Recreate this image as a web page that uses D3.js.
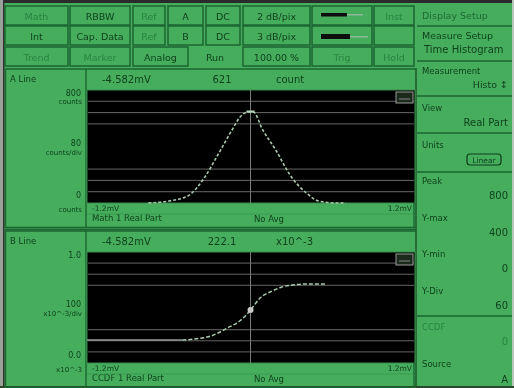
<!DOCTYPE html>
<html>
<head>
<meta charset="utf-8">
<script src="https://cdn.jsdelivr.net/npm/d3@7"></script>
<style>
  body { margin: 0; background: #fff; }
  svg { display: block; }
  text { font-family: "DejaVu Sans", sans-serif; }
</style>
</head>
<body>
<div id="chart"></div>
<script>
// ---- data ----
const histX     = [-0.75, -0.6, -0.46, -0.34, -0.24, -0.14, -0.07, -0.02, 0.02, 0.09, 0.19, 0.29, 0.41, 0.5, 0.63, 0.7];
const histCount = [0, 14, 50, 177, 340, 510, 616, 644, 644, 517, 368, 198, 71, 14, 0, 0];

const ccdfX   = [-1.2, -0.5, -0.41, -0.29, -0.17, -0.07, 0, 0.07, 0.16, 0.23, 0.31, 0.43, 0.56];
const ccdfVal = [0.207, 0.207, 0.216, 0.243, 0.315, 0.387, 0.477, 0.585, 0.649, 0.685, 0.703, 0.712, 0.712];

const xDomain = [-1.2, 1.2];     // mV
const histDomain = [0, 800];     // counts
const ccdfDomain = [0, 1];
const gridDivs = [1, 2, 3, 7, 8, 9];  // visible horizontal graticule lines (of 10)
const cursorX = 0;

const row1 = ["Math", "RBBW", "Ref", "A", "DC", "2 dB/pix", "", "Inst"];
const row2 = ["Int", "Cap. Data", "Ref", "B", "DC", "3 dB/pix", "", ""];
const row3 = ["Trend", "Marker", "Analog", "Run", "100.00 %", "Trig", "Hold"];
const dim1 = [true, false, true, false, false, false, false, true];
const dim2 = [false, false, true, false, false, false, false, true];
const dim3 = [true, true, false, false, false, true, true];

const panelA = { line: "A Line", cur: "-4.582mV", val: "621", unit: "count",
  yTop: ["800", "counts"], yMid: ["80", "counts/div"], yBot: ["0", "counts"],
  xLeft: "-1.2mV", xRight: "1.2mV", trace: "Math 1 Real Part", avg: "No Avg" };
const panelB = { line: "B Line", cur: "-4.582mV", val: "222.1", unit: "x10^-3",
  yTop: ["1.0", ""], yMid: ["100", "x10^-3/div"], yBot: ["0.0", "x10^-3"],
  xLeft: "-1.2mV", xRight: "1.2mV", trace: "CCDF 1 Real Part", avg: "No Avg" };

const sideItems = [
  { label: "Peak", value: "800" },
  { label: "Y-max", value: "400" },
  { label: "Y-min", value: "0" },
  { label: "Y-Div", value: "60" }
];

// ---- drawing ----
const W = 514, H = 388;
const green = "#45ad5c", line = "#1c6630", ink = "#0f3f1c", dimInk = "#2a8440";

const root = d3.select("#chart").append("svg").attr("width", W).attr("height", H);
root.append("defs").append("filter").attr("id", "soft")
  .append("feGaussianBlur").attr("stdDeviation", 0.45);
const svg = root.append("g").attr("filter", "url(#soft)");

svg.append("rect").attr("width", W).attr("height", H).attr("fill", green);
svg.append("rect").attr("width", W).attr("height", 3).attr("fill", "#2a2a2a");
svg.append("rect").attr("x", 0).attr("width", 3).attr("height", H).attr("fill", "#9aa09a");
svg.append("rect").attr("x", 3).attr("width", 1.5).attr("height", H).attr("fill", "#333");
svg.append("rect").attr("x", W - 2).attr("width", 2).attr("height", H).attr("fill", "#b8c8b8");
svg.append("rect").attr("y", H - 2).attr("width", W).attr("height", 2).attr("fill", "#2a4a2a");

function txt(x, y, s, opt = {}) {
  return svg.append("text").attr("x", x).attr("y", y).text(s)
    .attr("font-size", opt.size || 9.5)
    .attr("fill", opt.fill || ink)
    .attr("text-anchor", opt.anchor || "start");
}
function box(x, y, w, h) {
  svg.append("rect").attr("x", x).attr("y", y).attr("width", w).attr("height", h)
    .attr("fill", "none").attr("stroke", line).attr("stroke-width", 1.5);
}
function hline(x1, x2, y, c = line, w = 1.4) {
  svg.append("line").attr("x1", x1).attr("x2", x2).attr("y1", y).attr("y2", y)
    .attr("stroke", c).attr("stroke-width", w);
}
function vline(x, y1, y2, c = line, w = 1.4) {
  svg.append("line").attr("x1", x).attr("x2", x).attr("y1", y1).attr("y2", y2)
    .attr("stroke", c).attr("stroke-width", w);
}

// button rows
const cells12 = [[5, 68], [70, 130], [133, 165], [168, 203], [206, 240], [243, 310], [312, 372], [374, 414]];
const cells3 = [[5, 68], [70, 130], [133, 188], [190, 240], [243, 310], [312, 372], [374, 414]];
[[row1, dim1, 6, cells12], [row2, dim2, 26, cells12], [row3, dim3, 47, cells3]].forEach(([labels, dims, y, cells]) => {
  labels.forEach((s, i) => {
    const [a, b] = cells[i];
    if (!(labels === row3 && i === 3)) box(a, y, b - a, 19);
    if (s) txt((a + b) / 2, y + 13.5, s, { anchor: "middle", fill: dims[i] ? dimInk : ink });
  });
});
// level bars
svg.append("rect").attr("x", 321).attr("y", 13).attr("width", 26).attr("height", 3.5).attr("fill", "#111");
svg.append("rect").attr("x", 347).attr("y", 14).attr("width", 16).attr("height", 1.5).attr("fill", "#8fb89a");
svg.append("rect").attr("x", 321).attr("y", 34).attr("width", 29).attr("height", 5).attr("fill", "#111");
svg.append("rect").attr("x", 350).attr("y", 36).attr("width", 18).attr("height", 1.5).attr("fill", "#8fb89a");

// right side menu
const rx = 420;
txt(rx + 2, 19, "Display Setup", { size: 9.5, fill: "#1f6a33" });
hline(417, 512, 26);
txt(rx + 2, 39, "Measure Setup", { size: 9.5 });
txt(rx + 4, 53, "Time Histogram", { size: 10 });
hline(417, 512, 61);
txt(rx + 2, 74, "Measurement", { size: 8.5 });
txt(508, 88, "Histo \u2195", { size: 9.5, anchor: "end" });
hline(417, 512, 96);
txt(rx + 2, 111, "View", { size: 8.5 });
txt(508, 126, "Real Part", { size: 10, anchor: "end" });
hline(417, 512, 133);
txt(rx + 2, 148, "Units", { size: 8.5 });
svg.append("rect").attr("x", 467).attr("y", 154).attr("width", 34).attr("height", 11).attr("rx", 3)
  .attr("fill", "none").attr("stroke", ink).attr("stroke-width", 1.2);
txt(484, 163, "Linear", { size: 7.5, anchor: "middle" });
hline(417, 512, 172);
sideItems.forEach((d, i) => {
  const y = 184 + i * 36.5;
  txt(rx + 2, y, d.label, { size: 8.5 });
  txt(508, y + 15, d.value, { size: 10, anchor: "end" });
});
hline(417, 512, 316);
txt(rx + 2, 330, "CCDF", { size: 8.5, fill: dimInk });
txt(508, 345, "0", { size: 10, anchor: "end", fill: dimInk });
txt(rx + 2, 367, "Source", { size: 8.5 });
txt(508, 383, "A", { size: 10, anchor: "end" });
vline(416, 68, 386, "#1d5a2c", 1.5);

// plot panels
const x = d3.scaleLinear().domain(xDomain).range([87, 414]);

function panel(p, top, plotTop, plotBot, yScaleDomain) {
  const y = d3.scaleLinear().domain(yScaleDomain).range([plotBot, plotTop]);
  hline(5, 416, top);
  vline(5.5, top, plotBot + 25);
  vline(86, top, plotBot + 25);
  txt(10, top + 13, p.line, { size: 8.5 });
  txt(102, top + 14, p.cur, { size: 10 });
  txt(222, top + 14, p.val, { size: 10, anchor: "middle" });
  txt(276, top + 14, p.unit, { size: 10 });

  svg.append("rect").attr("x", 87).attr("y", plotTop).attr("width", 328).attr("height", plotBot - plotTop)
    .attr("fill", "#000").attr("stroke", "#3c8c4c").attr("stroke-width", 1);

  const divH = (plotBot - plotTop) / 10;
  gridDivs.forEach(k => hline(88, 414, plotTop + k * divH, "#666", 1));
  vline(x(cursorX), plotTop, plotBot, "#7a7a7a", 1);
  svg.append("rect").attr("x", 396).attr("y", plotTop + 2).attr("width", 17).attr("height", 11)
    .attr("fill", "#1a2a1a").attr("stroke", "#9a9a9a").attr("stroke-width", 1);
  hline(399, 410, plotTop + 9, "#888", 1);

  // y labels
  txt(81, plotTop + 6, p.yTop[0], { size: 8, anchor: "end" });
  txt(82, plotTop + 14, p.yTop[1], { size: 7, anchor: "end" });
  txt(81, (plotTop + plotBot) / 2 - 1, p.yMid[0], { size: 8, anchor: "end" });
  txt(82, (plotTop + plotBot) / 2 + 8, p.yMid[1], { size: 7, anchor: "end" });
  txt(81, plotBot - 5, p.yBot[0], { size: 8, anchor: "end" });
  txt(82, plotBot + 9, p.yBot[1], { size: 7, anchor: "end" });

  // bottom strip
  txt(92, plotBot + 8, p.xLeft, { size: 7.5 });
  txt(92, plotBot + 18, p.trace, { size: 8.5 });
  txt(254, plotBot + 19, p.avg, { size: 8.5 });
  txt(412, plotBot + 8, p.xRight, { size: 7.5, anchor: "end" });
  hline(87, 415, plotBot + 11, "#3a9a50", 1);
  vline(414, plotBot, plotBot + 24);
  hline(5, 416, plotBot + 24.5);
  return y;
}

const yA = panel(panelA, 69, 90, 203, histDomain);
const yB = panel(panelB, 231, 252, 363, ccdfDomain);
hline(5, 416, 229.5);

// histogram trace
const histLine = d3.line().x((d, i) => x(histX[i])).y(d => yA(d)).curve(d3.curveMonotoneX);
svg.append("path").attr("d", histLine(histCount))
  .attr("fill", "none").attr("stroke", "#a9c9ad").attr("stroke-width", 1.6)
  .attr("stroke-dasharray", "3 2");
svg.append("rect").attr("x", x(-0.03)).attr("y", yA(655)).attr("width", x(0.03) - x(-0.03)).attr("height", 2)
  .attr("fill", "#b8d4ba");

// ccdf trace
const ccdfLine = d3.line().x((d, i) => x(ccdfX[i])).y(d => yB(d)).curve(d3.curveMonotoneX);
svg.append("path").attr("d", ccdfLine(ccdfVal.slice(0, 2)))
  .attr("fill", "none").attr("stroke", "#9a9a9a").attr("stroke-width", 1.5);
const restX = ccdfX.slice(1);
svg.append("path")
  .attr("d", d3.line().x((d, i) => x(restX[i])).y(d => yB(d)).curve(d3.curveMonotoneX)(ccdfVal.slice(1)))
  .attr("fill", "none").attr("stroke", "#a9c9ad").attr("stroke-width", 1.5)
  .attr("stroke-dasharray", "4 2");
svg.append("circle").attr("cx", x(cursorX)).attr("cy", yB(ccdfVal[6])).attr("r", 3).attr("fill", "#c8c8c8");
</script>
</body>
</html>
